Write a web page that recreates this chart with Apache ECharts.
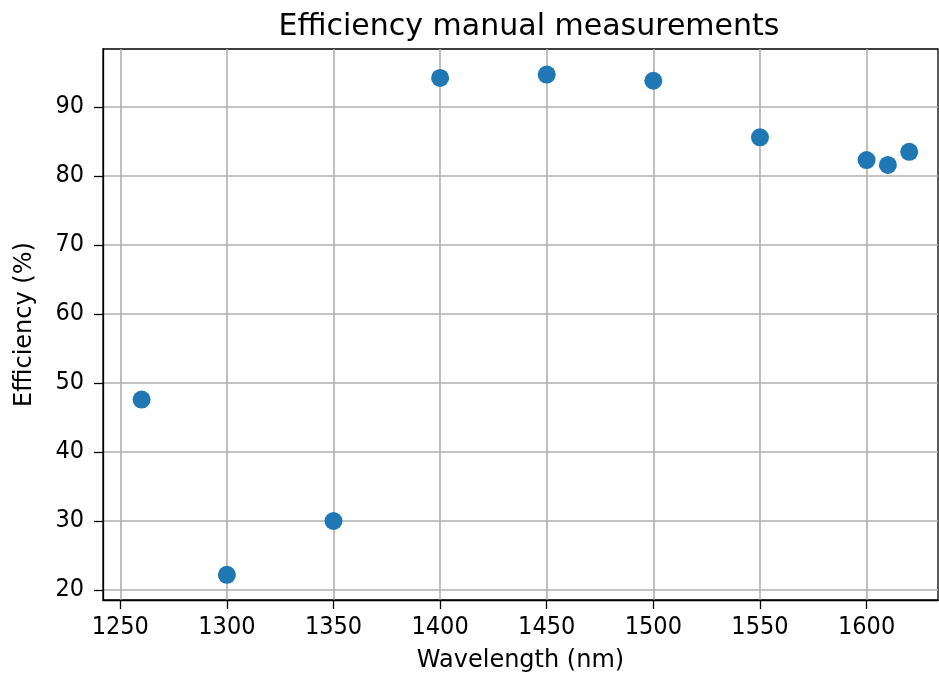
<!DOCTYPE html>
<html>
<head>
<meta charset="utf-8">
<script src="https://cdn.jsdelivr.net/npm/echarts@6/dist/echarts.min.js"></script>
<style>
  html, body { margin: 0; padding: 0; background: #fff; }
  #main { width: 939px; height: 682px; }
</style>
</head>
<body>
<div id="main"></div>
<script>
// wavelength (nm) and measured efficiency (%)
var wavelength = [1260, 1300, 1350, 1400, 1450, 1500, 1550, 1600, 1610, 1620];
var efficiency = [47.6, 22.2, 30.0, 94.2, 94.7, 93.8, 85.6, 82.3, 81.6, 83.5];
var xTicks = [1250, 1300, 1350, 1400, 1450, 1500, 1550, 1600];
var yTicks = [20, 30, 40, 50, 60, 70, 80, 90];

var points = [];
for (var i = 0; i < wavelength.length; i++) {
  points.push([wavelength[i], efficiency[i]]);
}

var chart = echarts.init(document.getElementById('main'), null, { renderer: 'canvas' });
var font = 'DejaVu Sans';
var tickFont = '"DejaVu Sans Condensed", "DejaVu Sans"';

chart.setOption({
  animation: false,
  title: {
    text: 'Efficiency manual measurements',
    left: 524,
    textAlign: 'center',
    top: 7,
    textStyle: { fontFamily: font, fontSize: 30, fontWeight: 'normal', color: '#000' }
  },
  grid: {
    left: 103, right: 1, top: 49, bottom: 82,
    outerBoundsMode: 'none',
    containLabel: false,
    show: true, borderColor: '#000', borderWidth: 1.3, backgroundColor: '#fff'
  },
  xAxis: {
    type: 'value',
    min: 1241.9,
    max: 1633.5,
    name: 'Wavelength (nm)',
    nameLocation: 'middle',
    nameGap: 49,
    nameTextStyle: { fontFamily: font, fontSize: 24, color: '#000' },
    axisLine: { show: true, onZero: false, lineStyle: { color: '#000', width: 1.3 } },
    axisTick: { show: true, length: 9, customValues: xTicks, lineStyle: { color: '#000', width: 1.3 } },
    axisLabel: {
      customValues: xTicks, margin: 15, fontFamily: tickFont, fontSize: 25, color: '#000',
      formatter: function (v) { return String(v); }
    },
    splitLine: { show: true, lineStyle: { color: '#b0b0b0', width: 1.6 } }
  },
  yAxis: {
    type: 'value',
    min: 18.55,
    max: 98.4,
    name: 'Efficiency (%)',
    nameLocation: 'middle',
    nameGap: 66,
    nameTextStyle: { fontFamily: font, fontSize: 24, color: '#000' },
    axisLine: { show: true, onZero: false, lineStyle: { color: '#000', width: 1.3 } },
    axisTick: { show: true, length: 9, customValues: yTicks, lineStyle: { color: '#000', width: 1.3 } },
    axisLabel: {
      customValues: yTicks, margin: 19, fontFamily: tickFont, fontSize: 25, color: '#000',
      formatter: function (v) { return String(v); }
    },
    splitLine: { show: true, lineStyle: { color: '#b0b0b0', width: 1.6 } }
  },
  series: [{
    type: 'scatter',
    data: points,
    symbolSize: 18,
    itemStyle: { color: '#1f77b4', opacity: 1 }
  }]
});
</script>
</body>
</html>
